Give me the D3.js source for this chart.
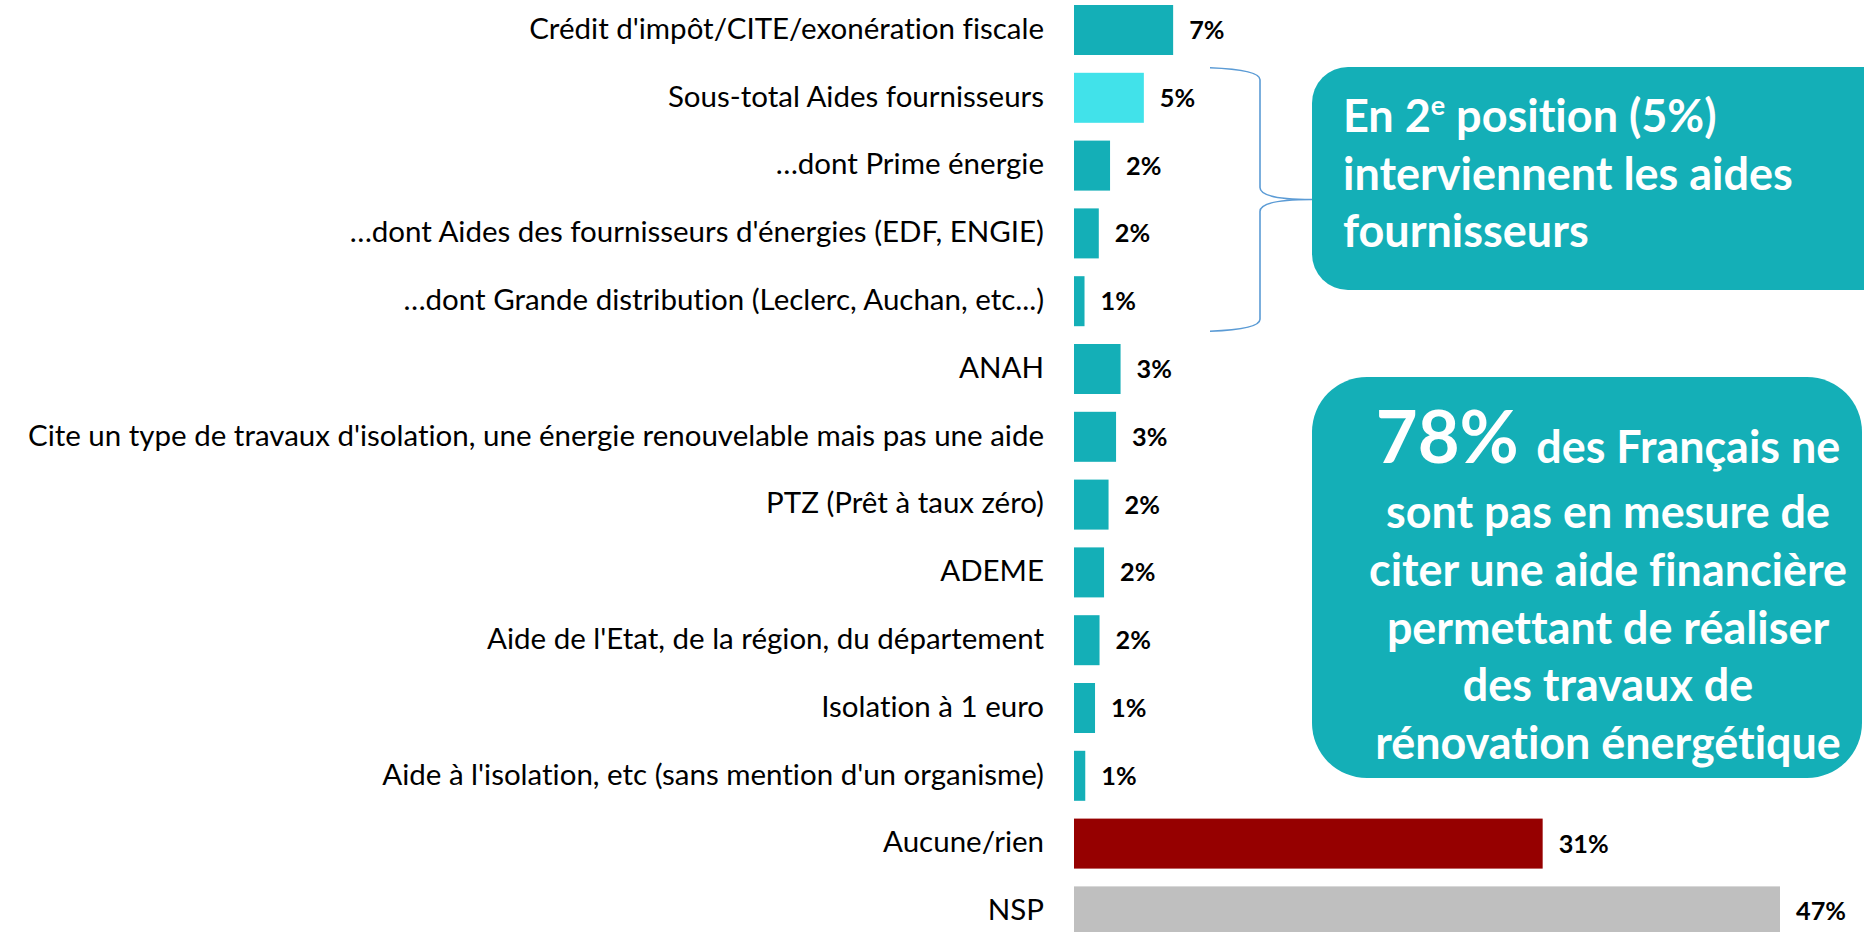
<!DOCTYPE html>
<html><head><meta charset="utf-8">
<script src="https://cdn.jsdelivr.net/npm/d3@7"></script>
<style>body{margin:0;background:#fff;overflow:hidden} svg text{font-variant-ligatures:none;font-feature-settings:"liga" 0,"dlig" 0,"clig" 0}</style>
</head><body>
<script>
// ---- data ----
const categories = [
  "Crédit d'impôt/CITE/exonération fiscale",
  "Sous-total Aides fournisseurs",
  "…dont Prime énergie",
  "…dont Aides des fournisseurs d'énergies (EDF, ENGIE)",
  "…dont Grande distribution (Leclerc, Auchan, etc...)",
  "ANAH",
  "Cite un type de travaux d'isolation, une énergie renouvelable mais pas une aide",
  "PTZ (Prêt à taux zéro)",
  "ADEME",
  "Aide de l'Etat, de la région, du département",
  "Isolation à 1 euro",
  "Aide à l'isolation, etc (sans mention d'un organisme)",
  "Aucune/rien",
  "NSP"
];
const values = [6.6, 4.65, 2.4, 1.65, 0.7, 3.1, 2.8, 2.3, 2.0, 1.7, 1.4, 0.75, 31.2, 47];
const valueLabels = ["7%","5%","2%","2%","1%","3%","3%","2%","2%","2%","1%","1%","31%","47%"];
const barKinds = ["aide","soustotal","aide","aide","aide","aide","aide","aide","aide","aide","aide","aide","aucune","nsp"];
const callout1Lines = [
  [{t:"En 2"},{t:"e",sup:true},{t:" position (5%)"}],
  [{t:"interviennent les aides"}],
  [{t:"fournisseurs"}]
];
const callout2Lead = "78% ";
const callout2Lines = ["des Français ne","sont pas en mesure de","citer une aide financière","permettant de réaliser","des travaux de","rénovation énergétique"];

// ---- layout / style ----
const W = 1864, H = 932;
const FONT = "Lato, 'Open Sans', sans-serif";
const colors = {aide:"#14AFB7", soustotal:"#41E2EA", aucune:"#960000", nsp:"#BFBFBF"};
const teal = "#14AFB7";

const svg = d3.select("body").append("svg").attr("width", W).attr("height", H)
  .style("font-family", FONT);
svg.append("rect").attr("width", W).attr("height", H).attr("fill", "#fff");

function measure(str, size, weight) {
  const t = svg.append("text").attr("font-size", size).attr("font-weight", weight).text(str);
  const w = t.node().getComputedTextLength();
  t.remove();
  return w;
}
function fit(str, width, weight) { return 100 * width / measure(str, 100, weight); }

const x = d3.scaleLinear().domain([0, 47]).range([1074, 1780]);
const y = d3.scaleBand().domain(categories).range([-3.9, 945.3])
  .paddingInner(0.2625).paddingOuter(0.13125);

// bars
svg.append("g").selectAll("rect").data(categories).join("rect")
  .attr("x", x(0))
  .attr("y", d => y(d))
  .attr("width", (d, i) => x(values[i]) - x(0))
  .attr("height", y.bandwidth())
  .attr("fill", (d, i) => colors[barKinds[i]]);

// category axis
const labelSize = (fit(categories[0], 509, 400) + fit(categories[6], 1028, 400)) / 2;
const axis = svg.append("g").attr("transform", `translate(${x(0)},0)`)
  .call(d3.axisLeft(y).tickSize(0).tickPadding(30));
axis.select(".domain").remove();
axis.selectAll("text").attr("font-size", labelSize).attr("font-family", FONT)
  .attr("fill", "#000").attr("dy", "0.3em");

// value labels
const valSize = fit("47%", 50, 700);
svg.append("g").selectAll("text").data(categories).join("text")
  .attr("x", (d, i) => x(values[i]) + 16)
  .attr("y", d => y(d) + y.bandwidth() / 2)
  .attr("dy", "0.36em")
  .attr("font-size", valSize).attr("font-weight", 700).attr("fill", "#000")
  .text((d, i) => valueLabels[i]);

// bracket
const bTop = y(categories[1]) - 5, bBot = y(categories[4]) + y.bandwidth() + 5;
const bMid = (bTop + bBot) / 2;
svg.append("path")
  .attr("d", `M1210,${bTop} Q1260,${bTop+2} 1260,${bTop+12} L1260,${bMid-12} Q1260,${bMid} 1312,${bMid}
    Q1260,${bMid} 1260,${bMid+12} L1260,${bBot-12} Q1260,${bBot-2} 1210,${bBot}`)
  .attr("fill", "none").attr("stroke", "#5B9BD5").attr("stroke-width", 1.6);

// callout 1
svg.append("rect").attr("x", 1312).attr("y", 67).attr("width", 590).attr("height", 223)
  .attr("rx", 36).attr("fill", teal);
const c1Size = fit("interviennent les aides", 450, 700);
callout1Lines.forEach((segs, li) => {
  const t = svg.append("text").attr("x", 1343).attr("y", 132 + li * 57.5)
    .attr("font-size", c1Size).attr("font-weight", 700).attr("fill", "#fff");
  let raised = false;
  segs.forEach(s => {
    const sp = t.append("tspan").text(s.t);
    if (s.sup) { sp.attr("font-size", c1Size * 0.6).attr("dy", -c1Size * 0.38); raised = true; }
    else if (raised) { sp.attr("dy", c1Size * 0.38); raised = false; }
  });
});

// callout 2
svg.append("rect").attr("x", 1312).attr("y", 377).attr("width", 550).attr("height", 401)
  .attr("rx", 55).attr("fill", teal);
const c2Size = fit("citer une aide financière", 478, 700);
const leadSize = fit("78%", 143, 700);
const cx = 1608;
const l1 = svg.append("text").attr("x", cx).attr("y", 463).attr("text-anchor", "middle")
  .attr("font-weight", 700).attr("fill", "#fff");
l1.append("tspan").attr("font-size", leadSize).text(callout2Lead);
l1.append("tspan").attr("font-size", c2Size).text(callout2Lines[0]);
callout2Lines.slice(1).forEach((s, i) => {
  svg.append("text").attr("x", cx).attr("y", 528 + i * 57.75).attr("text-anchor", "middle")
    .attr("font-size", c2Size).attr("font-weight", 700).attr("fill", "#fff").text(s);
});
</script>
</body></html>
